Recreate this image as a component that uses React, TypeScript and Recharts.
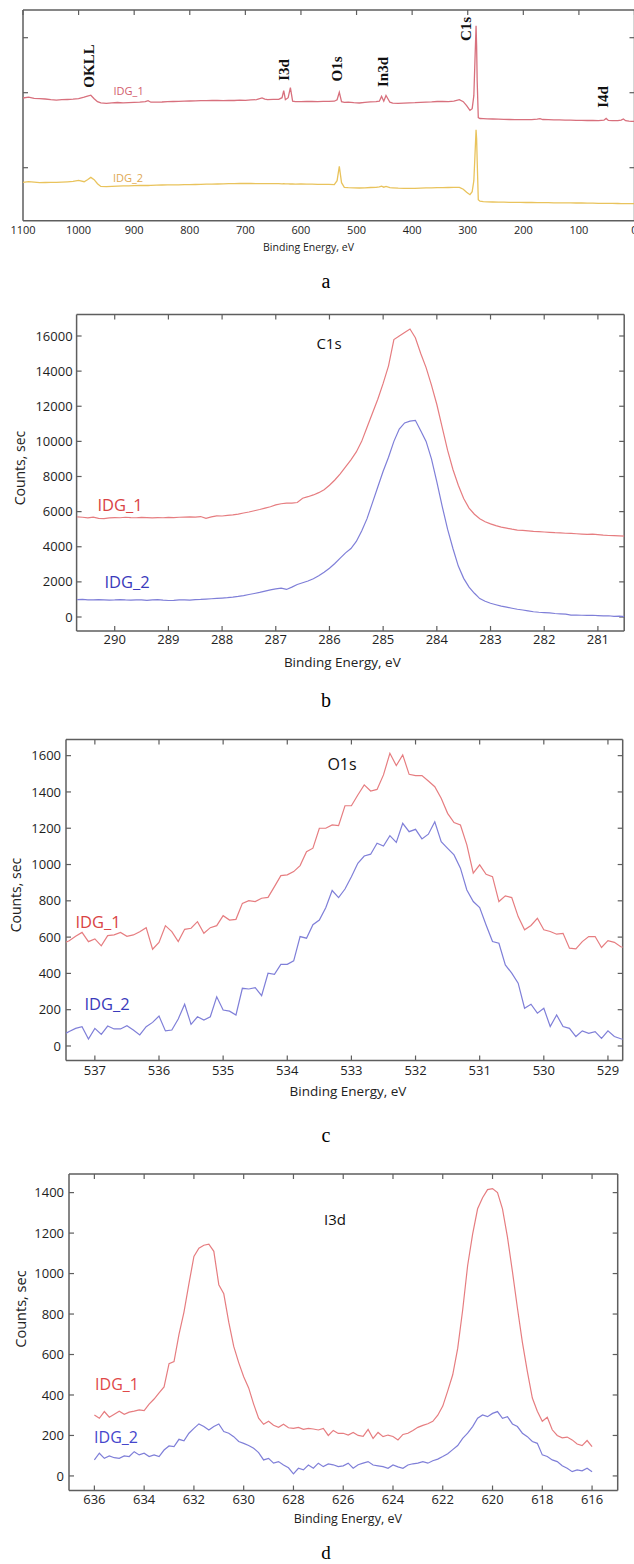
import React from 'react';
import { LineChart, Line, XAxis, YAxis, ReferenceLine } from 'recharts';

// ---------- Panel a: survey spectrum (relative intensity, arbitrary units) ----------
const surveyEnergy = [
  1100, 1090, 1080, 1070, 1060, 1050, 1040, 1030, 1020, 1010,
  1000, 990, 984, 978, 972, 966, 960, 950, 940, 930,
  920, 910, 900, 890, 880, 875, 870, 860, 850, 840,
  830, 820, 810, 800, 790, 780, 770, 760, 750, 740,
  730, 720, 710, 700, 690, 680, 670, 665, 660, 650,
  640, 634, 631, 628, 623, 619, 615, 610, 600, 590,
  580, 570, 560, 550, 540, 535, 531, 527, 522, 515,
  505, 495, 485, 475, 465, 459, 455, 451, 447, 440,
  435, 425, 415, 405, 395, 385, 375, 365, 355, 345,
  335, 325, 315, 308, 302, 296, 292, 289, 287, 285,
  284, 283, 281, 278, 272, 265, 255, 245, 235, 225,
  215, 205, 195, 185, 175, 170, 165, 155, 145, 135,
  125, 115, 105, 95, 85, 75, 65, 55, 51, 47,
  40, 30, 24, 20, 16, 10, 5, 0,
];
const surveyIDG1 = [
  122.7, 123.5, 122.3, 122, 121.7, 121, 120.5, 121, 121.2, 121.5,
  122, 123.5, 124.5, 125.5, 122, 119, 117.8, 117.3, 117.8, 118.2,
  117.8, 118, 118.3, 118.5, 119, 120, 118.5, 118.6, 118.7, 119,
  119.2, 119.4, 119.5, 119.7, 119.9, 120, 120.1, 120.2, 120.3, 120.1,
  120.4, 120.2, 120.5, 120.3, 120.8, 121, 122.7, 121.5, 121, 121.3,
  121.3, 123, 130, 121, 123, 133, 119.5, 119, 119, 119.2,
  119.3, 119.1, 119.3, 119.3, 119.5, 121, 128.5, 119, 118.3, 118.5,
  118, 117.7, 118.3, 118.8, 119, 119.5, 124.3, 119.5, 125.3, 118.5,
  117.5, 117.3, 117.5, 117.8, 118, 118.4, 118.6, 118.8, 119.2, 119.3,
  119.1, 119.6, 121, 119, 115, 110.3, 112, 125, 160, 195,
  175, 140, 103, 102.2, 102, 101.8, 101.7, 101.5, 101.4, 101.2,
  101.1, 101, 101, 101, 101.5, 102, 101.2, 101, 100.9, 100.8,
  100.6, 100.5, 100.4, 100.3, 100.2, 100.2, 100.1, 100.5, 102.3, 100.3,
  100, 100.1, 100.6, 101.7, 100, 99.6, 99.4, 99.3,
];
const surveyIDG2 = [
  38.3, 39, 38.5, 38, 38.2, 38.3, 38.3, 38.6, 38.9, 39.3,
  40.3, 39, 41, 43.3, 41, 37, 34.3, 34, 34.3, 34.6,
  34.8, 34.9, 35, 35.2, 35.3, 35.2, 35.4, 35.6, 35.7, 35.8,
  35.9, 35.9, 36, 36, 36.2, 36.3, 36.5, 36.6, 36.7, 36.8,
  37, 37.1, 37.2, 37.3, 37.2, 37.1, 37, 37, 37, 37,
  37, 36.9, 37, 36.8, 36.8, 36.7, 36.7, 36.6, 36.7, 36.6,
  36.5, 36.4, 36.3, 36.3, 36, 40, 54.3, 38, 33.3, 33,
  32.8, 32.7, 32.9, 33.2, 33.3, 33.8, 34.6, 33.5, 34.2, 33,
  32.8, 32.5, 32.4, 32.3, 32.3, 32.5, 32.8, 32.9, 33, 33.1,
  33.2, 33.3, 33.3, 31.5, 28.5, 26, 29, 40, 65, 91,
  82, 60, 21, 19.5, 19, 18.9, 18.7, 18.6, 18.5, 18.4,
  18.3, 18.3, 18.2, 18.2, 18.1, 18.1, 18, 18, 17.9, 17.9,
  17.8, 17.8, 17.7, 17.7, 17.6, 17.5, 17.4, 17.4, 17.4, 17.3,
  17.3, 17.2, 17.1, 17.1, 17.1, 17, 17, 17,
];
const surveyXTicks = [0, 100, 200, 300, 400, 500, 600, 700, 800, 900, 1000, 1100];
const surveyYTicks = [53, 128, 183];

// ---------- Panel b: C1s (290.7 -> 280.5 eV, 0.1 eV step) ----------
const c1sStart = 290.7;
const c1sStep = 0.1;
const c1sIDG1 = [
  5700, 5680, 5650, 5690, 5620, 5600, 5640, 5660, 5650, 5680,
  5660, 5650, 5670, 5660, 5640, 5660, 5650, 5670, 5660, 5680,
  5690, 5700, 5690, 5720, 5620, 5700, 5760, 5750, 5790, 5820,
  5860, 5920, 5980, 6050, 6120, 6200, 6280, 6380, 6450, 6480,
  6480, 6520, 6760, 6850, 6950, 7080, 7250, 7500, 7800, 8150,
  8550, 8950, 9400, 10000, 10800, 11600, 12400, 13300, 14300, 15800,
  16000, 16200, 16400, 15900, 15000, 14200, 13200, 12100, 10800, 9500,
  8400, 7500, 6750, 6200, 5850, 5600, 5420, 5300, 5200, 5120,
  5060, 5000, 4950, 4930, 4900, 4870, 4860, 4840, 4820, 4800,
  4790, 4770, 4760, 4740, 4720, 4700, 4720, 4690, 4660, 4640,
  4630, 4620, 4600,
];
const c1sIDG2 = [
  990, 1000, 980, 970, 990, 980, 960, 970, 990, 970,
  960, 980, 970, 950, 970, 990, 960, 940, 950, 970,
  980, 960, 990, 1000, 1020, 1040, 1060, 1080, 1100, 1130,
  1170, 1220, 1280, 1340, 1400, 1470, 1540, 1600, 1640, 1570,
  1700, 1850, 1950, 2050, 2180, 2350, 2550, 2780, 3050, 3350,
  3650, 3900, 4300, 4900, 5600, 6500, 7400, 8300, 9100, 10000,
  10700, 11050, 11150, 11200, 10600, 10000, 9000, 7700, 6300, 5000,
  3900, 2900, 2200, 1700, 1350, 1050, 900, 780, 700, 620,
  560, 500, 440, 400, 350, 300, 270, 250, 230, 200,
  180, 160, 110, 110, 100, 90, 100, 80, 60, 70,
  40, 50, 20,
];
const c1sXTicks = [281, 282, 283, 284, 285, 286, 287, 288, 289, 290];
const c1sYTicks = [0, 2000, 4000, 6000, 8000, 10000, 12000, 14000, 16000];

// ---------- Panel c: O1s (537.5 -> 528.7 eV, 0.1 eV step) ----------
const o1sStart = 537.5;
const o1sStep = 0.1;
const o1sIDG1 = [
  565, 580, 605, 626, 575, 590, 552, 608, 612, 626,
  604, 612, 630, 652, 533, 571, 663, 630, 575, 643,
  649, 685, 621, 652, 663, 718, 694, 698, 786, 801,
  796, 814, 819, 878, 939, 943, 961, 994, 1071, 1090,
  1200, 1200, 1218, 1214, 1324, 1324, 1383, 1439, 1405, 1414,
  1494, 1613, 1545, 1604, 1497, 1490, 1490, 1460, 1429, 1365,
  1282, 1231, 1218, 1108, 952, 998, 946, 933, 796, 827,
  818, 713, 640, 664, 704, 640, 631, 616, 621, 539,
  535, 575, 603, 603, 543, 581, 571, 547, 540,
];
const o1sIDG2 = [
  60, 80, 97, 106, 38, 97, 64, 110, 94, 94,
  112, 88, 61, 106, 130, 165, 83, 88, 149, 230,
  119, 161, 143, 161, 271, 198, 192, 171, 318, 314,
  321, 277, 401, 395, 450, 450, 469, 603, 594, 668,
  694, 762, 857, 818, 865, 933, 1007, 1047, 1057, 1117,
  1102, 1159, 1122, 1227, 1181, 1194, 1141, 1167, 1236, 1126,
  1089, 1053, 980, 860, 796, 763, 667, 576, 566, 447,
  401, 346, 208, 230, 181, 208, 107, 171, 107, 97,
  52, 83, 70, 79, 42, 83, 52, 40, 35,
];
const o1sXTicks = [529, 530, 531, 532, 533, 534, 535, 536, 537];
const o1sYTicks = [0, 200, 400, 600, 800, 1000, 1200, 1400, 1600];

// ---------- Panel d: I3d (636 -> 616 eV, 0.2 eV step) ----------
const i3dStart = 636;
const i3dStep = 0.2;
const i3dIDG1 = [
  301, 285, 318, 290, 305, 320, 305, 315, 320, 326,
  323, 355, 380, 410, 440, 555, 565, 700, 810, 950,
  1085, 1125, 1140, 1145, 1110, 945, 900, 760, 640, 560,
  490, 435, 355, 285, 255, 270, 250, 240, 255, 238,
  235, 240, 230, 235, 232, 227, 235, 200, 225, 210,
  211, 202, 215, 200, 196, 230, 185, 215, 194, 202,
  195, 178, 205, 211, 225, 240, 250, 258, 270, 300,
  345, 420, 500, 630, 820, 1040, 1195, 1320, 1375, 1415,
  1420, 1400, 1320, 1180, 1010, 830, 660, 515, 385, 320,
  270, 290, 228, 200, 188, 192, 178, 158, 150, 175,
  145,
];
const i3dIDG2 = [
  79, 112, 87, 99, 90, 87, 99, 96, 120, 104,
  112, 96, 104, 96, 128, 148, 145, 181, 174, 211,
  235, 257, 244, 227, 244, 257, 219, 211, 194, 170,
  161, 150, 137, 115, 79, 87, 63, 71, 54, 40,
  10, 38, 30, 54, 38, 63, 46, 59, 55, 46,
  50, 63, 38, 55, 63, 71, 54, 50, 46, 38,
  54, 45, 38, 54, 60, 63, 71, 63, 75, 83,
  96, 110, 130, 150, 186, 211, 244, 285, 301, 293,
  309, 318, 285, 293, 257, 244, 211, 194, 170, 161,
  104, 96, 79, 71, 50, 38, 21, 30, 25, 38,
  21,
];
const i3dXTicks = [616, 618, 620, 622, 624, 626, 628, 630, 632, 634, 636];
const i3dYTicks = [0, 200, 400, 600, 800, 1000, 1200, 1400];

// ---------- helpers ----------
const energyGrid = (start: number, step: number, n: number) =>
  Array.from({ length: n }, (_, i) => Math.round((start - step * i) * 100) / 100);

const rows = (e: number[], a: number[], b: number[]) => e.map((x, i) => ({ e: x, s1: a[i], s2: b[i] }));

const surveyData = rows(surveyEnergy, surveyIDG1, surveyIDG2);
const c1sData = rows(energyGrid(c1sStart, c1sStep, c1sIDG1.length), c1sIDG1, c1sIDG2);
const o1sData = rows(energyGrid(o1sStart, o1sStep, o1sIDG1.length), o1sIDG1, o1sIDG2);
const i3dData = rows(energyGrid(i3dStart, i3dStep, i3dIDG1.length), i3dIDG1, i3dIDG2);

const FRAME = '#5e5e5e';
const TICK = '#1e1e1e';
const SANS = '"Open Sans", "DejaVu Sans", sans-serif';
const SERIF = '"Liberation Serif", "DejaVu Serif", serif';

type PanelProps = {
  top: number;
  width: number;
  height: number;
  margin: { top: number; right: number; bottom: number; left: number };
  yWidth: number;
  xHeight: number;
  data: any[];
  xDomain: [number, number];
  yDomain: [number, number];
  xTicks: number[];
  yTicks: number[];
  c1: string;
  c2: string;
  sw: number;
  font: number;
  xGap: number;
  yGap: number;
  showY: boolean;
  tickLen: number;
  bottomTicks: boolean;
};

// frame + inward tick marks, drawn as reference segments on the chart's own axes
function frameAndTicks(p: PanelProps) {
  const plotW = p.width - p.margin.left - p.margin.right - (p.showY ? p.yWidth : 0);
  const plotH = p.height - p.margin.top - p.margin.bottom - p.xHeight;
  const [xMin, xMax] = p.xDomain;
  const [yMin, yMax] = p.yDomain;
  const dx = ((xMax - xMin) / plotW) * p.tickLen;
  const dy = ((yMax - yMin) / plotH) * p.tickLen;
  const frame = { stroke: FRAME, strokeWidth: 1.5 };
  const tick = { stroke: FRAME, strokeWidth: 1.2 };
  const out: React.ReactElement[] = [];
  const common = { xAxisId: 'b', yAxisId: 'l', ifOverflow: 'visible' as const };
  out.push(<ReferenceLine key="ft" {...common} segment={[{ x: xMin, y: yMax }, { x: xMax, y: yMax }]} {...frame} />);
  out.push(<ReferenceLine key="fb" {...common} segment={[{ x: xMin, y: yMin }, { x: xMax, y: yMin }]} {...frame} />);
  out.push(<ReferenceLine key="fl" {...common} segment={[{ x: xMax, y: yMin }, { x: xMax, y: yMax }]} {...frame} />);
  out.push(<ReferenceLine key="fr" {...common} segment={[{ x: xMin, y: yMin }, { x: xMin, y: yMax }]} {...frame} />);
  p.xTicks.forEach((t) => {
    out.push(<ReferenceLine key={`tt${t}`} {...common} segment={[{ x: t, y: yMax }, { x: t, y: yMax - dy }]} {...tick} />);
    if (p.bottomTicks) {
      out.push(<ReferenceLine key={`tb${t}`} {...common} segment={[{ x: t, y: yMin }, { x: t, y: yMin + dy }]} {...tick} />);
    }
  });
  p.yTicks.forEach((v) => {
    out.push(<ReferenceLine key={`tl${v}`} {...common} segment={[{ x: xMax, y: v }, { x: xMax - dx, y: v }]} {...tick} />);
    out.push(<ReferenceLine key={`tr${v}`} {...common} segment={[{ x: xMin, y: v }, { x: xMin + dx, y: v }]} {...tick} />);
  });
  return out;
}

function Panel(p: PanelProps) {
  return (
    <div style={{ position: 'absolute', left: 0, top: p.top }}>
      <LineChart width={p.width} height={p.height} data={p.data} margin={p.margin}>
        <XAxis
          xAxisId="b"
          dataKey="e"
          type="number"
          domain={p.xDomain}
          allowDataOverflow
          reversed
          ticks={p.xTicks}
          interval={0}
          height={p.xHeight}
          tickLine={false}
          tickSize={p.xGap}
          tickMargin={0}
          axisLine={false}
          tick={{ fill: TICK, fontSize: p.font, fontFamily: SANS }}
        />
        <YAxis
          yAxisId="l"
          type="number"
          domain={p.yDomain}
          allowDataOverflow
          ticks={p.yTicks}
          interval={0}
          width={p.yWidth}
          hide={!p.showY}
          tickLine={false}
          tickSize={p.yGap}
          tickMargin={0}
          axisLine={false}
          tick={{ fill: TICK, fontSize: p.font, fontFamily: SANS }}
        />
        {frameAndTicks(p)}
        <Line
          xAxisId="b"
          yAxisId="l"
          type="linear"
          dataKey="s1"
          stroke={p.c1}
          strokeWidth={p.sw}
          dot={false}
          activeDot={false}
          isAnimationActive={false}
        />
        <Line
          xAxisId="b"
          yAxisId="l"
          type="linear"
          dataKey="s2"
          stroke={p.c2}
          strokeWidth={p.sw}
          dot={false}
          activeDot={false}
          isAnimationActive={false}
        />
      </LineChart>
    </div>
  );
}

type TxtProps = {
  x: number;
  y: number;
  text: string;
  size: number;
  color?: string;
  font?: string;
  weight?: number;
  rotate?: number;
};

function Txt({ x, y, text, size, color = '#111', font = SANS, weight = 400, rotate = 0 }: TxtProps) {
  return (
    <div
      style={{
        position: 'absolute',
        left: x,
        top: y,
        transform: `translate(-50%, -50%) rotate(${rotate}deg)`,
        fontSize: size,
        color,
        fontFamily: font,
        fontWeight: weight,
        whiteSpace: 'nowrap',
        lineHeight: 1,
      }}
    >
      {text}
    </div>
  );
}

const RED_LINE = '#e67d80';
const BLUE_LINE = '#7f7fd8';
const RED_TXT = '#d94444';
const BLUE_TXT = '#3a3abb';

export default function App() {
  return (
    <div
      style={{
        position: 'absolute',
        left: 0,
        top: 0,
        width: 634,
        height: 1564,
        overflow: 'hidden',
        background: '#ffffff',
      }}
    >
      {/* a: survey */}
      <Panel
        top={0}
        width={640}
        height={250}
        margin={{ top: 10, right: 5.5, bottom: 0, left: 23 }}
        yWidth={0}
        xHeight={29.3}
        data={surveyData}
        xDomain={[0, 1100]}
        yDomain={[0, 210.7]}
        xTicks={surveyXTicks}
        yTicks={surveyYTicks}
        c1="#d8707d"
        c2="#e9c35c"
        sw={1.3}
        font={11}
        xGap={5.4}
        yGap={4}
        showY={false}
        tickLen={5}
        bottomTicks={false}
      />
      <Txt x={89} y={66} text="OKLL" size={15} font={SERIF} weight={700} rotate={-90} />
      <Txt x={284} y={70} text="I3d" size={15} font={SERIF} weight={700} rotate={-90} />
      <Txt x={337} y={69} text="O1s" size={15} font={SERIF} weight={700} rotate={-90} />
      <Txt x={383} y={72} text="In3d" size={15} font={SERIF} weight={700} rotate={-90} />
      <Txt x={466} y={29} text="C1s" size={15} font={SERIF} weight={700} rotate={-90} />
      <Txt x={603} y={97} text="I4d" size={15} font={SERIF} weight={700} rotate={-90} />
      <Txt x={128.6} y={90} text="IDG_1" size={11} color="#d25c6c" />
      <Txt x={128} y={177} text="IDG_2" size={11} color="#e0a850" />
      <Txt x={308.5} y={247} text="Binding Energy, eV" size={10.5} color="#222" />
      <Txt x={326} y={281} text="a" size={20} font={SERIF} color="#000" />

      {/* b: C1s */}
      <Panel
        top={300}
        width={634}
        height={350}
        margin={{ top: 14.5, right: 9.8, bottom: 0, left: 0 }}
        yWidth={76.6}
        xHeight={19}
        data={c1sData}
        xDomain={[280.51, 290.71]}
        yDomain={[-797, 17224]}
        xTicks={c1sXTicks}
        yTicks={c1sYTicks}
        c1={RED_LINE}
        c2={BLUE_LINE}
        sw={1.2}
        font={13}
        xGap={4}
        yGap={4}
        showY={true}
        tickLen={5}
        bottomTicks={true}
      />
      <Txt x={329} y={343} text="C1s" size={15} />
      <Txt x={120} y={505} text="IDG_1" size={16.5} color={RED_TXT} />
      <Txt x={127} y={582} text="IDG_2" size={16.5} color={BLUE_TXT} />
      <Txt x={342.3} y={663} text="Binding Energy, eV" size={13.5} color="#222" />
      <Txt x={20} y={468} text="Counts, sec" size={14} color="#222" rotate={-90} />
      <Txt x={326} y={700} text="b" size={20} font={SERIF} color="#000" />

      {/* c: O1s */}
      <Panel
        top={730}
        width={634}
        height={350}
        margin={{ top: 9.5, right: 11.3, bottom: 0, left: 0 }}
        yWidth={66}
        xHeight={19.5}
        data={o1sData}
        xDomain={[528.77, 537.45]}
        yDomain={[-80, 1689]}
        xTicks={o1sXTicks}
        yTicks={o1sYTicks}
        c1={RED_LINE}
        c2={BLUE_LINE}
        sw={1.2}
        font={13}
        xGap={5.5}
        yGap={5}
        showY={true}
        tickLen={5}
        bottomTicks={true}
      />
      <Txt x={342} y={764} text="O1s" size={16} />
      <Txt x={98} y={922} text="IDG_1" size={16.5} color={RED_TXT} />
      <Txt x={107} y={1004} text="IDG_2" size={16.5} color={BLUE_TXT} />
      <Txt x={348} y={1092} text="Binding Energy, eV" size={13.5} color="#222" />
      <Txt x={16} y={895} text="Counts, sec" size={14} color="#222" rotate={-90} />
      <Txt x={326} y={1135} text="c" size={20} font={SERIF} color="#000" />

      {/* d: I3d */}
      <Panel
        top={1160}
        width={634}
        height={350}
        margin={{ top: 14, right: 16.3, bottom: 0, left: 0 }}
        yWidth={69}
        xHeight={19.5}
        data={i3dData}
        xDomain={[614.97, 637.02]}
        yDomain={[-72, 1492]}
        xTicks={i3dXTicks}
        yTicks={i3dYTicks}
        c1={RED_LINE}
        c2={BLUE_LINE}
        sw={1.2}
        font={13}
        xGap={4}
        yGap={5}
        showY={true}
        tickLen={5}
        bottomTicks={true}
      />
      <Txt x={335} y={1219} text="I3d" size={15} />
      <Txt x={117} y={1384} text="IDG_1" size={16} color="#e04848" />
      <Txt x={116} y={1437} text="IDG_2" size={16} color="#4646cc" />
      <Txt x={347.8} y={1519} text="Binding Energy, eV" size={12.5} color="#222" />
      <Txt x={21} y={1309} text="Counts, sec" size={14.5} color="#222" rotate={-90} />
      <Txt x={326} y={1552} text="d" size={19} font={SERIF} color="#000" />
    </div>
  );
}
